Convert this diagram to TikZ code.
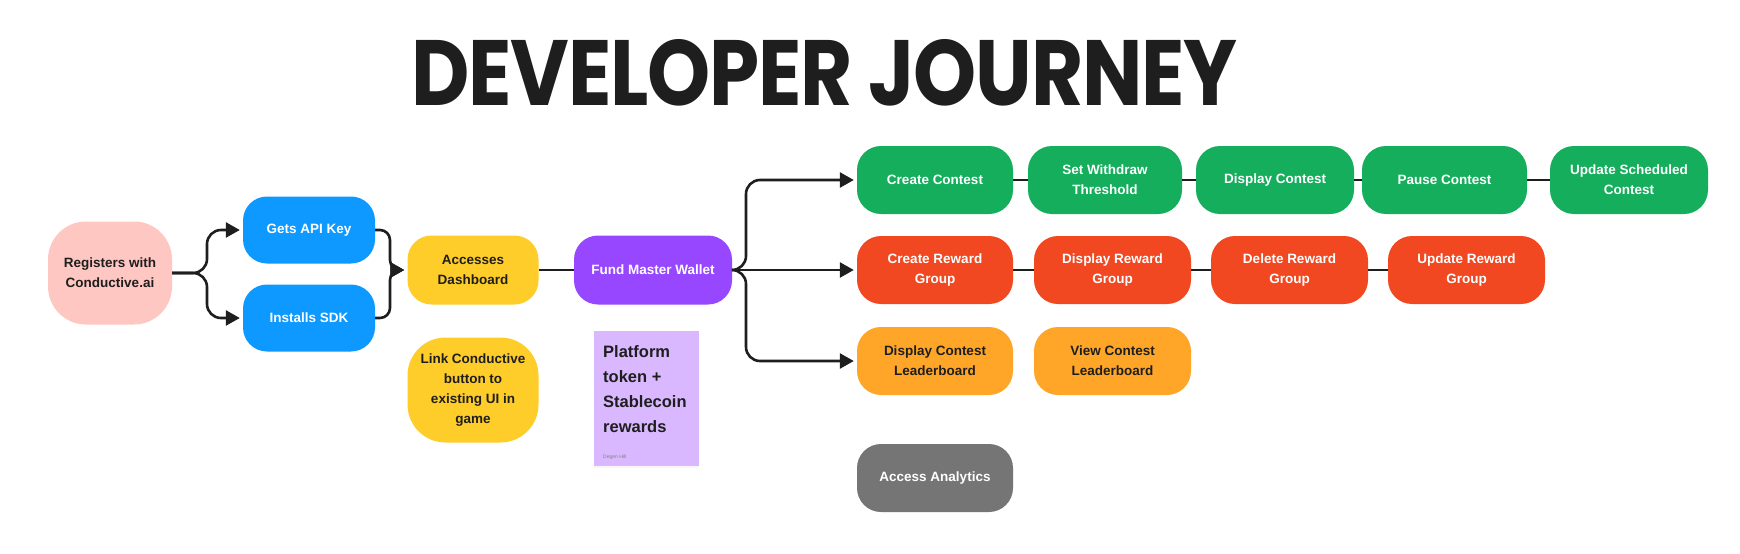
\documentclass[tikz,border=0pt]{standalone}
\usepackage{fontspec}
\setmainfont{Liberation Sans}
\newfontfamily\titlefont{Poppins}[LetterSpace=-1.5]
\usetikzlibrary{arrows.meta,shadows}

\definecolor{ink}{HTML}{1E1E1E}
\definecolor{pinkbg}{HTML}{FFC7C2}
\definecolor{bluebg}{HTML}{0D99FF}
\definecolor{yellowbg}{HTML}{FFCD29}
\definecolor{purplebg}{HTML}{9747FF}
\definecolor{greenbg}{HTML}{14AE5C}
\definecolor{redbg}{HTML}{F24822}
\definecolor{orangebg}{HTML}{FFA629}
\definecolor{graybg}{HTML}{757575}
\definecolor{stickybg}{HTML}{D9B8FF}

\tikzset{
  box/.style={rounded corners=24pt, minimum height=68pt, minimum width=157pt,
    align=center, inner sep=0pt, text=white,
    font=\fontsize{13.5}{20}\selectfont\bfseries},
  tallbox/.style={box, rounded corners=38pt, minimum height=104pt},
  link/.style={draw=ink, line width=2.6pt},
  flow/.style={link, rounded corners=14pt, -{Triangle[length=14pt,width=15pt]}, shorten >=3pt},
}

\begin{document}
\begin{tikzpicture}[x=1pt,y=-1pt]
    \path[fill=white] (0,0) rectangle (1740,554);

    % Title
    \node[anchor=base west, inner sep=0pt, text=ink] (title) at (411,105)
      {\resizebox{826pt}{66pt}{\titlefont\bfseries DEVELOPER JOURNEY}};

    % Setup steps (left)
    \node[tallbox, fill=pinkbg, text=ink, minimum width=124pt, minimum height=103pt] (reg) at (110,273) {Registers with\\Conductive.ai};
    \node[box, fill=bluebg, minimum width=132pt, minimum height=67pt] (api) at (309,230) {Gets API Key};
    \node[box, fill=bluebg, minimum width=132pt, minimum height=67pt] (sdk) at (309,318) {Installs SDK};
    \node[box, fill=yellowbg, text=ink, minimum width=131pt, minimum height=69pt] (dash) at (473,270) {Accesses\\Dashboard};
    \node[tallbox, fill=yellowbg, text=ink, minimum width=131pt, minimum height=105pt] (btn) at (473,390) {Link Conductive\\button to\\existing UI in\\game};
    \node[box, fill=purplebg, minimum width=158pt, minimum height=69pt] (fund) at (653,270) {Fund Master Wallet};

    % Sticky note
    \node[fill=stickybg, minimum width=105pt, minimum height=135pt, inner sep=0pt,
      drop shadow={opacity=0.07, shadow xshift=0pt, shadow yshift=-2pt}] (sticky) at (646.5,398.5) {};
    \node[anchor=north west, align=left, inner sep=0pt, text=ink,
      font=\fontsize{16.5}{25}\selectfont\bfseries] (stickytxt) at (603,345) {Platform\\token +\\Stablecoin\\rewards};
    \node[anchor=base west, inner sep=0pt, text=ink!55, font=\fontsize{5}{6}\selectfont] (stickyby) at (603,458) {Degen Hill};

    % Row 1 - contests
    \node[box, fill=greenbg, minimum width=156pt] (cc) at (935,180) {Create Contest};
    \node[box, fill=greenbg, minimum width=154pt] (sw) at (1105,180) {Set Withdraw\\Threshold};
    \node[box, fill=greenbg, minimum width=158pt] (dc) at (1275,180) {Display Contest};
    \node[box, fill=greenbg, minimum width=165pt] (pc) at (1444.5,180) {Pause Contest};
    \node[box, fill=greenbg, minimum width=158pt] (us) at (1629,180) {Update Scheduled\\Contest};

    % Row 2 - reward groups
    \node[box, fill=redbg, minimum width=156pt] (crg) at (935,270) {Create Reward\\Group};
    \node[box, fill=redbg] (drg) at (1112.5,270) {Display Reward\\Group};
    \node[box, fill=redbg] (del) at (1289.5,270) {Delete Reward\\Group};
    \node[box, fill=redbg] (urg) at (1466.5,270) {Update Reward\\Group};

    % Row 3 - leaderboards
    \node[box, fill=orangebg, text=ink, minimum width=156pt] (dcl) at (935,361) {Display Contest\\Leaderboard};
    \node[box, fill=orangebg, text=ink] (vcl) at (1112.5,361) {View Contest\\Leaderboard};

    % Analytics
    \node[box, fill=graybg, minimum width=156pt] (ana) at (935,478) {Access Analytics};

    % connectors
    \coordinate (split) at (207,273);
    \coordinate (join) at (390,270);
    \coordinate (fork) at (746,270);
    \draw[flow] (reg.east) -- (split) |- (api.west);
    \draw[flow] (reg.east) -- (split) |- (sdk.west);
    \draw[flow, rounded corners=10pt] (api.east) -| (join) -- (dash.west);
    \draw[flow, rounded corners=10pt] (sdk.east) -| (join) -- (dash.west);
    \draw[link] (dash.east) -- (fund.west);
    \draw[flow] (fund.east) -- (fork) |- (cc.west);
    \draw[flow] (fund.east) -- (crg.west);
    \draw[flow] (fund.east) -- (fork) |- (dcl.west);

    \foreach \a/\b in {cc/sw,sw/dc,dc/pc,pc/us,crg/drg,drg/del,del/urg}
      \draw[link] (\a.east) -- (\b.west);
\end{tikzpicture}
\end{document}
